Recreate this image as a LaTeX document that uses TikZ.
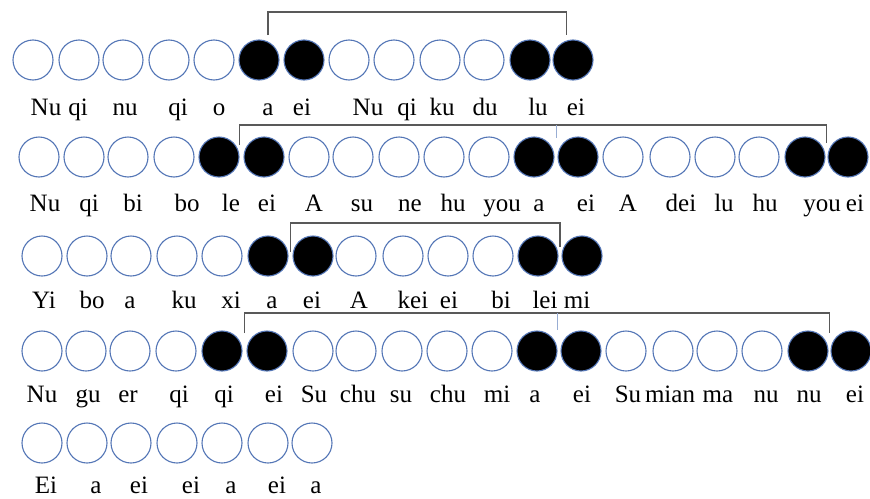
\documentclass[tikz,border=0pt]{standalone}
\usepackage{fontspec}
\setmainfont{Liberation Serif}
\usetikzlibrary{calc}

\definecolor{beadblue}{RGB}{84,118,182}
\definecolor{bracketgray}{RGB}{89,89,89}
\tikzset{
  bead/.style={circle, draw=beadblue, line width=1.1pt, minimum size=40pt, inner sep=0pt},
  word/.style={anchor=base, inner sep=0pt, font=\fontsize{25}{30}\selectfont},
  bracket/.style={draw=bracketgray, line width=1.2pt},
  tick/.style={draw=beadblue!60, line width=0.6pt}
}

\begin{document}
\begin{tikzpicture}[x=1pt, y=-1pt]
\useasboundingbox (0,0) rectangle (870,498);
% row 1
\foreach \x/\c [count=\i] in {33/white,79/white,123/white,169/white,214/white,259/black,304/black,349/white,394/white,440/white,484/white,530/black,573/black}
  \node[bead, fill=\c] (r1c\i) at (\x,60) {};
\foreach \x/\t [count=\i] in {46/Nu,78/qi,125/nu,178/qi,219/o,268/a,302/ei,368/Nu,407/qi,442/ku,485/du,538/lu,576/ei}
  \node[word] (r1w\i) at (\x,115) {\t};
\draw[bracket] ($(r1c6)!0.2!(r1c7)$) ++(0,-25) |- ($(r1c12)!0.85!(r1c13)+(0,-48)$) -- ++(0,23);
% row 2
\foreach \x/\c [count=\i] in {39/white,84/white,128/white,174/white,219/black,264/black,309/white,353/white,399/white,444/white,489/white,534/black,578/black,623/white,670/white,715/white,759/white,805/black,848/black}
  \node[bead, fill=\c] (r2c\i) at (\x,157) {};
\foreach \x/\t [count=\i] in {45/Nu,89/qi,133/bi,187/bo,231/le,267/ei,314/A,362/su,410/ne,453/hu,502/you,539/a,586/ei,628/A,681/dei,724/lu,765/hu,822/you,855/ei}
  \node[word] (r2w\i) at (\x,211) {\t};
\draw[bracket] ($(r2c5)!0.45!(r2c6)$) ++(0,-12) |- ($(r2c18)!0.5!(r2c19)+(0,-32)$) -- ++(0,18);
\draw[tick] ($(r2c12)!0.5!(r2c13)+(0,-32)$) -- ++(0,13);
% row 3
\foreach \x/\c [count=\i] in {42/white,87/white,131/white,177/white,222/white,268/black,313/black,356/white,403/white,448/white,493/white,538/black,582/black}
  \node[bead, fill=\c] (r3c\i) at (\x,256) {};
\foreach \x/\t [count=\i] in {44/Yi,92/bo,130/a,184/ku,231/xi,272/a,312/ei,359/A,413/kei,449/ei,501/bi,545/lei,577/mi}
  \node[word] (r3w\i) at (\x,308) {\t};
\draw[bracket] ($(r3c6)!0.5!(r3c7)$) ++(0,-4) |- ($(r3c12)!0.5!(r3c13)+(0,-33)$) -- ++(0,24);
% row 4
\foreach \x/\c [count=\i] in {42/white,86/white,130/white,176/white,222/black,267/black,313/white,356/white,402/white,447/white,492/white,537/black,581/black,626/white,673/white,717/white,762/white,808/black,851/black}
  \node[bead, fill=\c] (r4c\i) at (\x,351) {};
\foreach \x/\t [count=\i] in {42/Nu,88/gu,128/er,179/qi,224/qi,274/ei,314/Su,358/chu,401/su,448/chu,497/mi,535/a,582/ei,628/Su,670/mian,718/ma,766/nu,809/nu,855/ei}
  \node[word] (r4w\i) at (\x,402) {\t};
\draw[bracket] ($(r4c5)!0.5!(r4c6)$) ++(0,-18) |- ($(r4c18)!0.5!(r4c19)+(0,-38)$) -- ++(0,20);
\draw[tick] ($(r4c12)!0.45!(r4c13)+(0,-38)$) -- ++(0,17);
% row 5
\foreach \x/\c [count=\i] in {42/white,87/white,131/white,177/white,222/white,268/white,312/white}
  \node[bead, fill=\c] (r5c\i) at (\x,443) {};
\foreach \x/\t [count=\i] in {46/Ei,96/a,139/ei,191/ei,231/a,277/ei,316/a}
  \node[word] (r5w\i) at (\x,493) {\t};
\end{tikzpicture}
\end{document}
